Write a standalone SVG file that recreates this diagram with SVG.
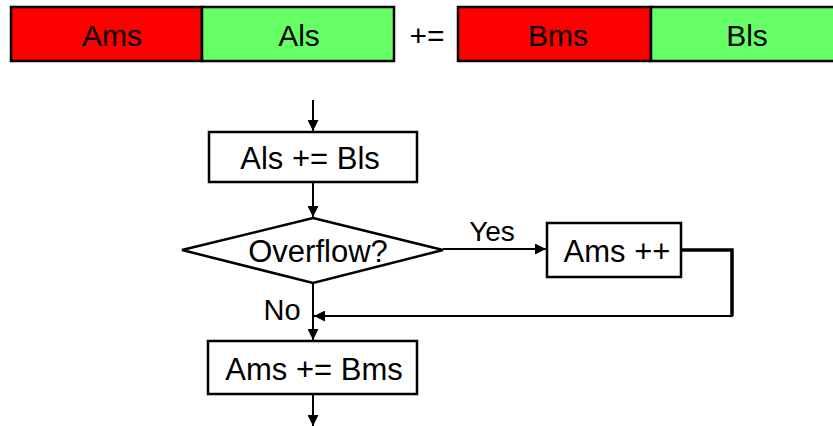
<svg xmlns="http://www.w3.org/2000/svg" width="833" height="426" viewBox="0 0 833 426">
  <style>
    .lbl { font-family: "Liberation Sans", Arial, sans-serif; fill: #000; }
    .bar { stroke: #000; stroke-width: 2.5; }
    .red { fill: #FF0000; }
    .grn { fill: #66FF66; }
    .box { fill: #fff; stroke: #000; stroke-width: 2.5; }
    .wire { fill: none; stroke: #000; stroke-width: 2; }
    .wire-bold { fill: none; stroke: #000; stroke-width: 3.5; }
  </style>
  <defs>
    <marker id="arrow" viewBox="0 0 10 10" refX="10" refY="5" markerWidth="5.5" markerHeight="5.5" markerUnits="strokeWidth" orient="auto">
      <path d="M0,0 L10,5 L0,10 z" fill="#000"/>
    </marker>
  </defs>
  <rect width="833" height="426" fill="#fff"/>

  <!-- register A: ms | ls -->
  <g id="regA">
    <rect class="bar red" x="11" y="7" width="191" height="54"/>
    <rect class="bar grn" x="202" y="7" width="192" height="54"/>
    <text class="lbl" x="112" y="46" font-size="30" text-anchor="middle">Ams</text>
    <text class="lbl" x="299" y="46" font-size="30" text-anchor="middle">Als</text>
  </g>

  <text id="op" class="lbl" x="427" y="46" font-size="30" text-anchor="middle">+=</text>

  <!-- register B: ms | ls -->
  <g id="regB">
    <rect class="bar red" x="458" y="7" width="193" height="54"/>
    <rect class="bar grn" x="651" y="7" width="200" height="54"/>
    <text class="lbl" x="558" y="46" font-size="30" text-anchor="middle">Bms</text>
    <text class="lbl" x="747" y="46" font-size="30" text-anchor="middle">Bls</text>
  </g>

  <!-- flowchart nodes -->
  <g id="addLow">
    <rect class="box" x="209" y="132" width="208" height="50"/>
    <text class="lbl" x="310" y="169" font-size="31" text-anchor="middle">Als += Bls</text>
  </g>
  <g id="overflow">
    <polygon class="box" points="313,218 443,250 313,283 182,250" stroke-width="2"/>
    <text class="lbl" x="318" y="262" font-size="31" text-anchor="middle">Overflow?</text>
  </g>
  <g id="carry">
    <rect class="box" x="547" y="223" width="134" height="54"/>
    <text class="lbl" x="617" y="262" font-size="31" text-anchor="middle">Ams ++</text>
  </g>
  <g id="addHigh">
    <rect class="box" x="208" y="341" width="209" height="53"/>
    <text class="lbl" x="314" y="380" font-size="31" text-anchor="middle">Ams += Bms</text>
  </g>

  <!-- connectors -->
  <g id="connectors">
    <line class="wire" x1="313" y1="100" x2="313" y2="131" marker-end="url(#arrow)"/>
    <line class="wire" x1="313" y1="183" x2="313" y2="217" marker-end="url(#arrow)"/>
    <line class="wire" x1="443" y1="249" x2="546" y2="249" marker-end="url(#arrow)"/>
    <polyline class="wire-bold" points="681,250 732,250 732,316"/>
    <line class="wire" x1="733" y1="316" x2="314" y2="316" marker-end="url(#arrow)"/>
    <line class="wire" x1="313" y1="283" x2="313" y2="340" marker-end="url(#arrow)"/>
    <line class="wire" x1="313" y1="395" x2="313" y2="426" marker-end="url(#arrow)"/>
    <text class="lbl" x="492" y="241" font-size="28" text-anchor="middle">Yes</text>
    <text class="lbl" x="282" y="320" font-size="29" text-anchor="middle">No</text>
  </g>
</svg>
